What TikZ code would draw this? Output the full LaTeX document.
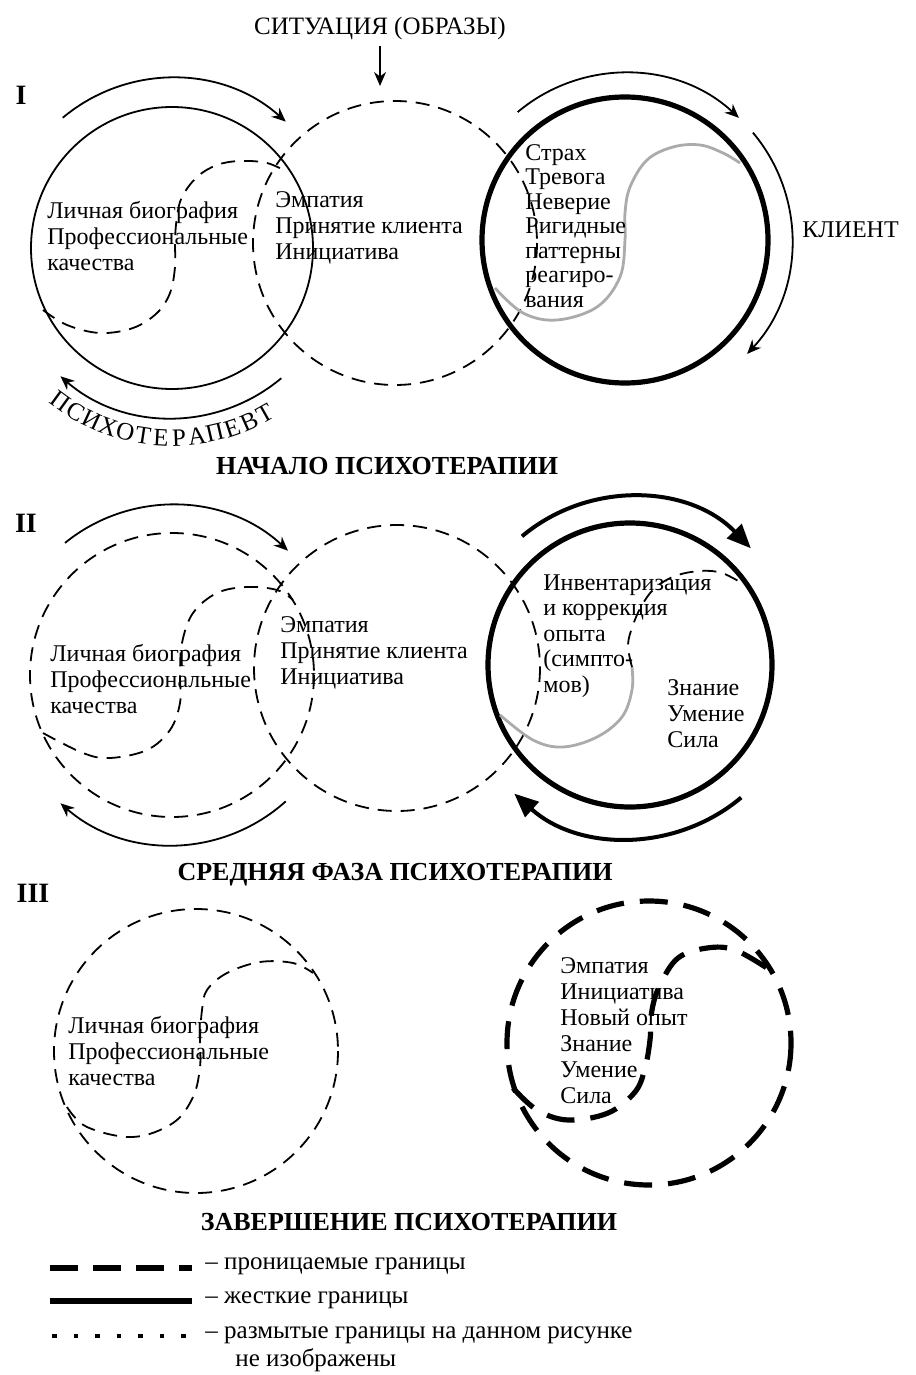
\documentclass[tikz,border=0pt]{standalone}
\usepackage{fontspec}
\setmainfont{Liberation Serif}
\usetikzlibrary{arrows.meta, calc}
\tikzset{
  tline/.style={line width=0.9pt},
  dline/.style={line width=0.9pt, dash pattern=on 7pt off 4.5pt},
  kline/.style={line width=2.6pt},
  kdash/.style={line width=2.6pt, dash pattern=on 14pt off 8pt},
  gline/.style={line width=1.4pt, draw=black!33},
  tarr/.style={line width=0.9pt, -{Stealth[length=7pt,width=6pt]}},
  barr/.style={line width=2pt, -{Triangle[length=12pt,width=10pt]}},
  lbl/.style={anchor=north west, align=left, inner sep=0pt, font=\fontsize{12}{13}\selectfont},
  ttl/.style={font=\fontsize{13}{15}\selectfont\bfseries, inner sep=0pt},
  num/.style={font=\fontsize{14}{16}\selectfont\bfseries, inner sep=0pt},
  leg/.style={anchor=west, inner sep=0pt, font=\fontsize{12.5}{14}\selectfont},
  arcletter/.style={anchor=base, inner sep=0pt, font=\fontsize{12.5}{14}\selectfont},
}
\begin{document}
\begin{tikzpicture}[x=0.5pt, y=-0.5pt]
\useasboundingbox (0,0) rectangle (915,1375);

% ---------------- Panel I ----------------
\node[font=\fontsize{12.5}{14}\selectfont, inner sep=0pt] (sit) at (380,28) {СИТУАЦИЯ (ОБРАЗЫ)};
\coordinate (sa) at (380,46);
\coordinate (sb) at (380,86);
\draw[tarr] (sa) -- (sb);
\node[num] (n1) at (21,95) {I};

\draw[tline] (172,248) circle[radius=141];
\draw[dline] (395,243) circle[radius=142];
\draw[kline] (625,240) circle[radius=143];
\draw[dline] plot[smooth, tension=0.6] coordinates {(43,310) (67,325) (100,333) (133,328) (157,313) (170,293) (175,267) (175,240) (177,217) (182,197) (197,177) (217,165) (240,161) (267,163) (287,172)};
\draw[gline] plot[smooth, tension=0.6] coordinates {(495,288) (523,313) (557,320) (597,307) (620,277) (625,240) (625,213) (630,187) (647,160) (673,147) (700,145) (723,153) (740,163)};

\draw[tarr] ($(172,248)+(-130:170)$) arc[start angle=-130, end angle=-48, radius=170];
\draw[tarr] ($(172,248)+(50:170)$) arc[start angle=50, end angle=131, radius=170];
\draw[tarr] ($(625,240)+(-130:167)$) arc[start angle=-130, end angle=-47, radius=167];
\draw[tarr] ($(625,240)+(-40:167)$) arc[start angle=-40, end angle=43, radius=167];

% curved label ПСИХОТЕРАПЕВТ
\foreach \ch [count=\i] in {П,С,И,Х,О,Т,Е,Р,А,П,Е,В,Т} {
  \pgfmathsetmacro\ang{126-(\i-1)*5.45}
  \node[arcletter, rotate={90-\ang}] (ps\i) at ($(172,248)+(\ang:198)$) {\ch};
}

\node[lbl] (a1) at (47,201) {Личная биография\\Профессиональные\\качества};
\node[lbl] (b1) at (275,191) {Эмпатия\\Принятие клиента\\Инициатива};
\node[lbl, font=\fontsize{12}{12.25}\selectfont] (c1) at (525,144) {Страх\\Тревога\\Неверие\\Ригидные\\паттерны\\реагиро-\\вания};
\node[anchor=west, inner sep=0pt, font=\fontsize{12}{14}\selectfont] (kl) at (802,230) {КЛИЕНТ};
\node[ttl] (t1) at (387,466) {НАЧАЛО ПСИХОТЕРАПИИ};

% ---------------- Panel II ----------------
\node[num] (n2) at (26,523) {II};
\draw[dline] (172,675) circle[radius=142];
\draw[dline] (397,668) circle[radius=143];
\draw[kline] (630,665) circle[radius=142];
\draw[dline] plot[smooth, tension=0.6] coordinates {(43,733) (83,753) (110,758) (147,750) (170,730) (180,703) (180,675) (182,643) (193,613) (217,593) (247,587) (277,590) (293,600)};
\draw[gline] plot[smooth, tension=0.6] coordinates {(500,715) (533,740) (563,747) (597,737) (622,717) (632,690) (632,667)};
\draw[dline] plot[smooth, tension=0.6] coordinates {(632,667) (628,645) (633,625) (642,605) (655,588) (675,576) (700,571) (722,573) (745,585)};

\draw[tarr] ($(172,675)+(-129:170)$) arc[start angle=-129, end angle=-47, radius=170];
\draw[tarr] ($(172,675)+(48:170)$) arc[start angle=48, end angle=131, radius=170];
\draw[barr] ($(630,665)+(-130:168)$) arc[start angle=-130, end angle=-44, radius=168];
\draw[barr] ($(630,665)+(50:173)$) arc[start angle=50, end angle=132, radius=173];

\node[lbl] (a2) at (50,644) {Личная биография\\Профессиональные\\качества};
\node[lbl] (b2) at (280,616) {Эмпатия\\Принятие клиента\\Инициатива};
\node[lbl, font=\fontsize{12}{12.75}\selectfont] (c2) at (543,574) {Инвентаризация\\и коррекция\\опыта\\(симпто-\\мов)};
\node[lbl] (d2) at (667,679) {Знание\\Умение\\Сила};
\node[ttl] (t2) at (395,875) {СРЕДНЯЯ ФАЗА ПСИХОТЕРАПИИ};

% ---------------- Panel III ----------------
\node[num] (n3) at (33,893) {III};
\draw[dline] (196,1051) circle[radius=142];
\draw[dline] plot[smooth, tension=0.6] coordinates {(67,1107) (87,1127) (133,1137) (173,1123) (193,1097) (200,1067) (200,1040) (202,1010) (207,990) (227,973) (260,962) (293,963) (313,973)};
\draw[kdash] (649,1043) circle[radius=142];
\draw[kdash] plot[smooth, tension=0.6] coordinates {(513,1088) (537,1110) (568,1120) (608,1113) (635,1092) (645,1068) (650,1040) (652,1010) (660,985) (678,958) (707,948) (735,950) (770,970)};

\node[lbl] (a3) at (68,1016) {Личная биография\\Профессиональные\\качества};
\node[lbl] (b3) at (560,957) {Эмпатия\\Инициатива\\Новый опыт\\Знание\\Умение\\Сила};
\node[ttl] (t3) at (409,1222) {ЗАВЕРШЕНИЕ ПСИХОТЕРАПИИ};

% ---------------- Legend ----------------
\coordinate (l1a) at (50,1268); \coordinate (l1b) at (192,1268);
\coordinate (l2a) at (50,1301); \coordinate (l2b) at (192,1301);
\coordinate (l3a) at (52,1336); \coordinate (l3b) at (186,1336);
\draw[line width=2.6pt, dash pattern=on 14pt off 7.5pt] (l1a) -- (l1b);
\draw[kline] (l2a) -- (l2b);
\draw[line width=2.4pt, dash pattern=on 2.4pt off 8.35pt] (l3a) -- (l3b);
\node[leg] (g1) at (205,1266) {– проницаемые границы};
\node[leg] (g2) at (205,1300) {– жесткие границы};
\node[leg] (g3) at (205,1335) {– размытые границы на данном рисунке};
\node[leg] (g4) at (235,1360) {не изображены};
\end{tikzpicture}
\end{document}
